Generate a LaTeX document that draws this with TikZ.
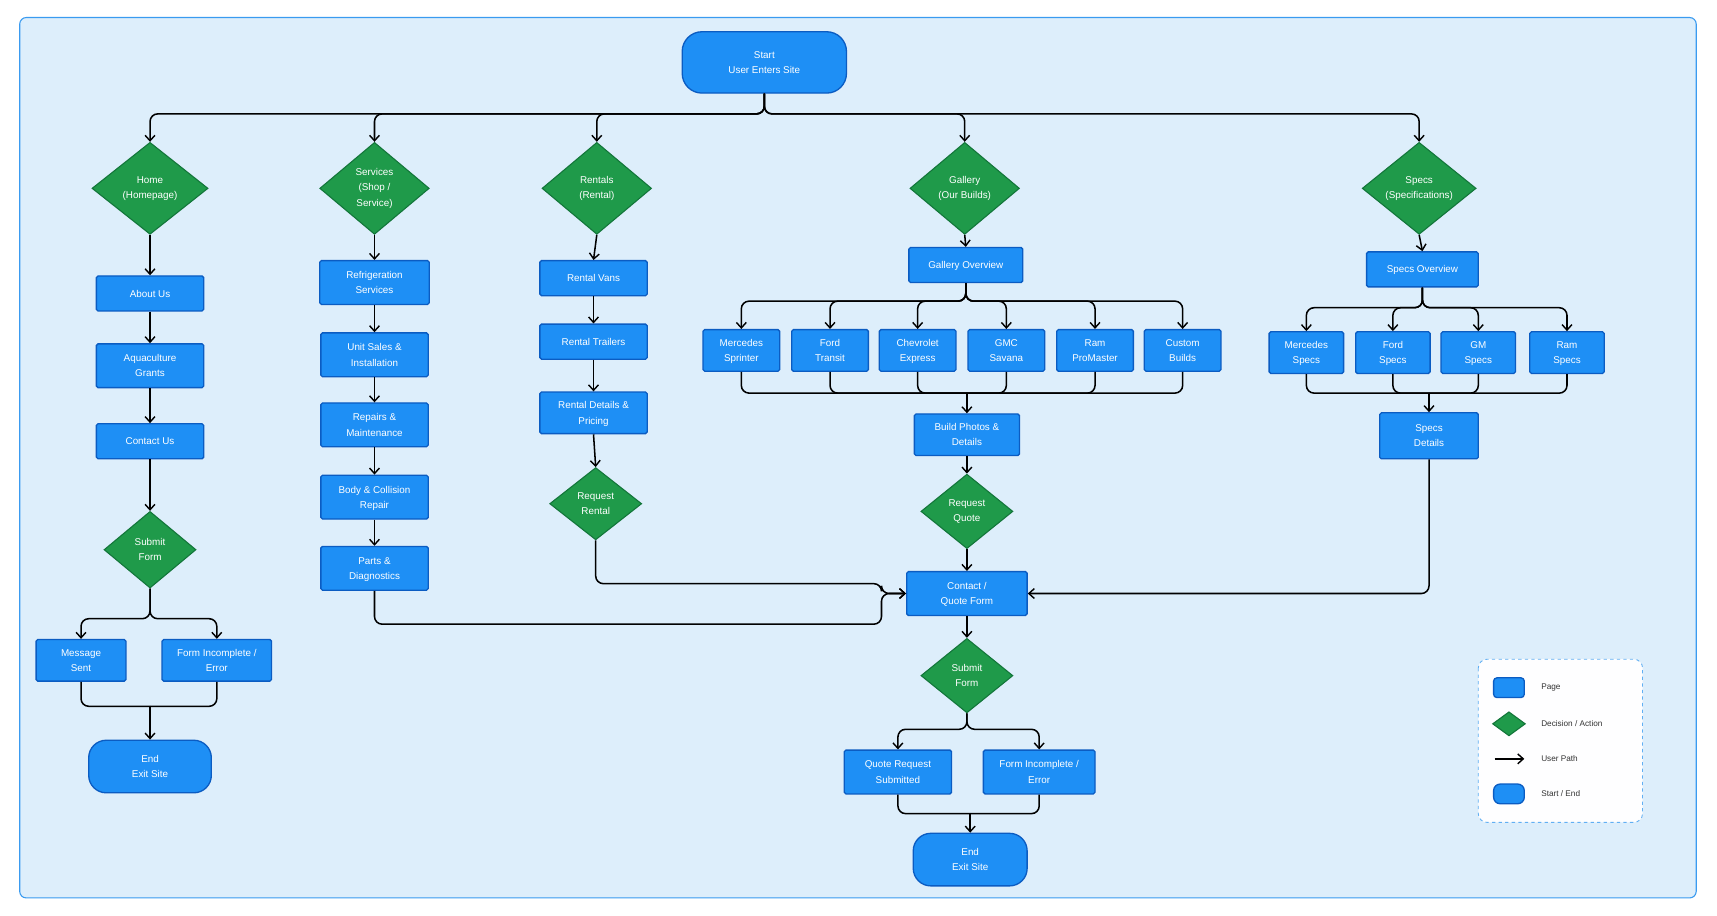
\documentclass[tikz,border=0pt]{standalone}
\usepackage{fontspec}
\setmainfont{Liberation Sans}
\usetikzlibrary{shapes.geometric,arrows.meta}
\definecolor{bg}{HTML}{DDEEFB}
\definecolor{frame}{HTML}{3A9BF0}
\definecolor{pfill}{HTML}{1E8FF5}
\definecolor{pdraw}{HTML}{0B5CC2}
\definecolor{dfill}{HTML}{1F9A4A}
\definecolor{ddraw}{HTML}{13763A}
\tikzset{
 page/.style={rectangle,rounded corners=1.5,fill=pfill,draw=pdraw,line width=1.2,text=white,align=center,font=\fontsize{9}{14}\selectfont,inner sep=1,text depth=0pt},
 term/.style={page,rounded corners=18},
 dec/.style={diamond,fill=dfill,draw=ddraw,line width=1,inner sep=0,minimum width=#1},
 dtxt/.style={text=white,align=center,font=\fontsize{9}{14}\selectfont},
 arr/.style={line width=1.4,-{Straight Barb[length=5,width=9,line width=1.3]},rounded corners=7},
 ln/.style={line width=1.4,rounded corners=7},
 lg/.style={anchor=west,text=black!80,font=\fontsize{7.5}{9}\selectfont}
}
\begin{document}
\begin{tikzpicture}[x=1pt,y=-1pt]
\useasboundingbox (0,0) rectangle (1568,836);
\draw[fill=bg,draw=frame,line width=1,rounded corners=6] (18,16) rectangle (1549,820);
% start
\node[term,minimum width=150,minimum height=56] (st) at (698,57) {Start\\User Enters Site};
% top diamonds
\newcommand{\dia}[5]{\node[dec=#4,minimum height=#5] (#1) at #2 {};\node[dtxt] at (#1) {#3};}
\dia{home}{(137,172)}{Home\\(Homepage)}{106}{84}
\dia{serv}{(342,172)}{Services\\(Shop /\\Service)}{100}{84}
\dia{rent}{(545,172)}{Rentals\\(Rental)}{100}{84}
\dia{gal}{(881,172)}{Gallery\\(Our Builds)}{100}{84}
\dia{spec}{(1296,172)}{Specs\\(Specifications)}{104}{84}
\coordinate (bus) at (698,104);
\foreach \n in {home,serv,rent,gal,spec}{\draw[arr] (st.south) |- (bus) -| (\n.north);}
% home column
\node[page,minimum width=98,minimum height=32] (about) at (137,268) {About Us};
\node[page,minimum width=98,minimum height=40] (aqua) at (137,334) {Aquaculture\\Grants};
\node[page,minimum width=98,minimum height=32] (cont) at (137,403) {Contact Us};
\dia{hsub}{(137,502)}{Submit\\Form}{84}{70}
\node[page,minimum width=82,minimum height=38] (msg) at (74,603) {Message\\Sent};
\node[page,minimum width=100,minimum height=38] (hfi) at (198,603) {Form Incomplete /\\Error};
\node[term,minimum width=112,minimum height=48,rounded corners=16] (hend) at (137,700) {End\\Exit Site};
\draw[arr] (home.south) -- (about.north);
\draw[arr] (about.south) -- (aqua.north);
\draw[arr] (aqua.south) -- (cont.north);
\draw[arr] (cont.south) -- (hsub.north);
\coordinate (hb) at (137,565);
\draw[arr] (hsub.south) |- (hb) -| (msg.north);
\draw[arr] (hsub.south) |- (hb) -| (hfi.north);
\coordinate (hj) at (137,645);
\draw[ln] (msg.south) |- (hj);
\draw[ln] (hfi.south) |- (hj);
\draw[arr] (hj) -- (hend.north);
% services
\node[page,minimum width=100,minimum height=40] (s1) at (342,258) {Refrigeration\\Services};
\node[page,minimum width=98,minimum height=40] (s2) at (342,324) {Unit Sales \&\\Installation};
\node[page,minimum width=98,minimum height=40] (s3) at (342,388) {Repairs \&\\Maintenance};
\node[page,minimum width=98,minimum height=40] (s4) at (342,454) {Body \& Collision\\Repair};
\node[page,minimum width=98,minimum height=40] (s5) at (342,519) {Parts \&\\Diagnostics};
\draw[arr] (serv.south) -- (s1.north);
\draw[arr] (s1.south) -- (s2.north);
\draw[arr] (s2.south) -- (s3.north);
\draw[arr] (s3.south) -- (s4.north);
\draw[arr] (s4.south) -- (s5.north);
% rentals
\node[page,minimum width=98,minimum height=32] (r1) at (542,254) {Rental Vans};
\node[page,minimum width=98,minimum height=32] (r2) at (542,312) {Rental Trailers};
\node[page,minimum width=98,minimum height=38] (r3) at (542,377) {Rental Details \&\\Pricing};
\dia{rr}{(544,460)}{Request\\Rental}{84}{66}
\draw[arr] (rent.south) -- (r1.north);
\draw[arr] (r1.south) -- (r2.north);
\draw[arr] (r2.south) -- (r3.north);
\draw[arr] (r3.south) -- (rr.north);
% gallery
\node[page,minimum width=104,minimum height=32] (go) at (882,242) {Gallery Overview};
\draw[arr] (gal.south) -- (go.north);
\coordinate (gb) at (882,275);
\coordinate (gj) at (883,359);
\foreach \n/\x/\t in {g1/677/Mercedes\\Sprinter,g2/758/Ford\\Transit,g3/838/Chevrolet\\Express,g4/919/GMC\\Savana,g5/1000/Ram\\ProMaster,g6/1080/Custom\\Builds}{
 \node[page,minimum width=70,minimum height=38] (\n) at (\x,320) {\t};
 \draw[arr] (go.south) |- (gb) -| (\n.north);
 \draw[ln] (\n.south) |- (gj);
}
\node[page,minimum width=96,minimum height=38] (bp) at (883,397) {Build Photos \&\\Details};
\draw[arr] (gj) -- (bp.north);
\dia{rq}{(883,467)}{Request\\Quote}{84}{68}
\draw[arr] (bp.south) -- (rq.north);
\node[page,minimum width=110,minimum height=40] (cq) at (883,542) {Contact /\\Quote Form};
\draw[arr] (rq.south) -- (cq.north);
\dia{gsub}{(883,617)}{Submit\\Form}{84}{68}
\draw[arr] (cq.south) -- (gsub.north);
\node[page,minimum width=98,minimum height=40] (qs) at (820,705) {Quote Request\\Submitted};
\node[page,minimum width=102,minimum height=40] (gfi) at (949,705) {Form Incomplete /\\Error};
\coordinate (gsb) at (883,666);
\draw[arr] (gsub.south) |- (gsb) -| (qs.north);
\draw[arr] (gsub.south) |- (gsb) -| (gfi.north);
\node[term,minimum width=104,minimum height=48,rounded corners=16] (gend) at (886,785) {End\\Exit Site};
\coordinate (gej) at (886,743);
\draw[ln] (qs.south) |- (gej);
\draw[ln] (gfi.south) |- (gej);
\draw[arr] (gej) -- (gend.north);
% rentals / services to contact
\draw[arr] (rr.south) -- (544,533) -- (805,533) -- (805,542) -- (cq.west);
\draw[arr] (s5.south) -- (342,570) -- (805,570) -- (805,542) -- (cq.west);
% specs
\node[page,minimum width=102,minimum height=32] (so) at (1299,246) {Specs Overview};
\draw[arr] (spec.south) -- (so.north);
\coordinate (sb) at (1299,281);
\coordinate (sj) at (1305,359);
\foreach \n/\x/\t in {p1/1193/Mercedes\\Specs,p2/1272/Ford\\Specs,p3/1350/GM\\Specs,p4/1431/Ram\\Specs}{
 \node[page,minimum width=68,minimum height=38] (\n) at (\x,322) {\t};
 \draw[arr] (so.south) |- (sb) -| (\n.north);
 \draw[ln] (\n.south) |- (sj);
}
\node[page,minimum width=90,minimum height=42] (sd) at (1305,398) {Specs\\Details};
\draw[arr] (sj) -- (sd.north);
\draw[arr] (sd.south) |- (cq.east);
% legend
\draw[fill=white!96!bg,draw=frame!80,dashed,line width=0.8,rounded corners=8] (1350,602) rectangle (1500,751);
\node[page,minimum width=28,minimum height=18,rounded corners=3] (l1) at (1378,628) {};
\node[dec=30,minimum height=22] (l2) at (1378,661) {};
\coordinate (l3a) at (1365,693); \coordinate (l3b) at (1392,693);
\draw[arr] (l3a) -- (l3b);
\node[page,minimum width=28,minimum height=18,rounded corners=6] (l4) at (1378,725) {};
\node[lg] at (1404,628) {Page};
\node[lg] at (1404,661) {Decision / Action};
\node[lg] at (1404,693) {User Path};
\node[lg] at (1404,725) {Start / End};
\end{tikzpicture}
\end{document}
